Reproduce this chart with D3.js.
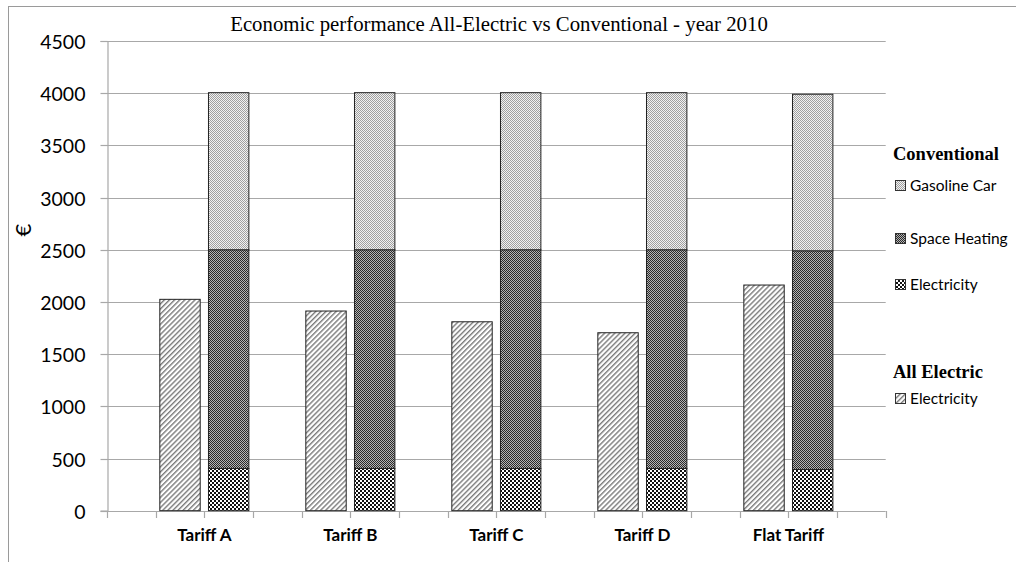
<!DOCTYPE html>
<html>
<head>
<meta charset="utf-8">
<script src="https://cdn.jsdelivr.net/npm/d3@7"></script>
<style>
  html, body { margin: 0; padding: 0; background: #fff; }
  svg { display: block; }
</style>
</head>
<body>
<svg id="chart" width="1016" height="562"></svg>
<script>
// Tariff scenarios on the category axis
const tariffs = ["Tariff A", "Tariff B", "Tariff C", "Tariff D", "Flat Tariff"];

// All-Electric household: electricity bill (€)
const allElectric = [2025, 1913, 1810, 1705, 2162];

// Conventional household, stacked from the bottom (€)
const convElectricity = [405, 405, 405, 405, 395];
const convHeating     = [2095, 2095, 2095, 2095, 2095];
const convGasoline    = [1505, 1505, 1505, 1505, 1500];

const yTicks = [0, 500, 1000, 1500, 2000, 2500, 3000, 3500, 4000, 4500];

const svg = d3.select("#chart");
const plot = { left: 107, right: 885.7, top: 41, bottom: 510.7 };

// ---- fill patterns ----
const defs = svg.append("defs");

// diagonal hatch for All-Electric electricity
const hatch = defs.append("pattern")
  .attr("id", "p-ae").attr("patternUnits", "userSpaceOnUse")
  .attr("width", 3.6).attr("height", 3.6)
  .attr("patternTransform", "rotate(45)");
hatch.append("rect").attr("width", 3.6).attr("height", 3.6).attr("fill", "#fff");
hatch.append("rect").attr("x", 0).attr("y", 0).attr("width", 1.4).attr("height", 3.6).attr("fill", "#7a7a7a");

// fine light checker for gasoline car
const gas = defs.append("pattern")
  .attr("id", "p-gas").attr("patternUnits", "userSpaceOnUse")
  .attr("width", 2).attr("height", 2);
gas.append("rect").attr("width", 2).attr("height", 2).attr("fill", "#f2f2f2");
gas.append("rect").attr("x", 0).attr("y", 0).attr("width", 1).attr("height", 1).attr("fill", "#a0a0a0");
gas.append("rect").attr("x", 1).attr("y", 1).attr("width", 1).attr("height", 1).attr("fill", "#a0a0a0");

// dark fine checker for space heating
const heat = defs.append("pattern")
  .attr("id", "p-heat").attr("patternUnits", "userSpaceOnUse")
  .attr("width", 2).attr("height", 2);
heat.append("rect").attr("width", 2).attr("height", 2).attr("fill", "#b4b4b4");
heat.append("rect").attr("x", 0).attr("y", 0).attr("width", 1).attr("height", 1).attr("fill", "#2a2a2a");
heat.append("rect").attr("x", 1).attr("y", 1).attr("width", 1).attr("height", 1).attr("fill", "#2a2a2a");

// coarse black/white checker for conventional electricity
const elec = defs.append("pattern")
  .attr("id", "p-elec").attr("patternUnits", "userSpaceOnUse")
  .attr("width", 4).attr("height", 4);
elec.append("rect").attr("width", 4).attr("height", 4).attr("fill", "#111");
elec.append("rect").attr("x", 0).attr("y", 0).attr("width", 2).attr("height", 2).attr("fill", "#fff");
elec.append("rect").attr("x", 2).attr("y", 2).attr("width", 2).attr("height", 2).attr("fill", "#fff");

// ---- outer frame ----
svg.append("rect")
  .attr("x", 8.5).attr("y", 6.5).attr("width", 1100).attr("height", 700)
  .attr("fill", "none").attr("stroke", "#9a9a9a").attr("stroke-width", 1);

// ---- scales ----
// each tariff gets an empty slot, then the All-Electric bar, then the Conventional bar
const slots = [];
tariffs.forEach((t, i) => { slots.push("gap" + i, t + "|AE", t + "|CONV"); });
slots.push("gapEnd");

const x = d3.scaleBand().domain(slots).range([plot.left, plot.right]).padding(0);
const y = d3.scaleLinear().domain([0, 4500]).range([plot.bottom, plot.top]);
const barPad = x.step() * 0.085;
const barW = x.step() - 2 * barPad;

// ---- gridlines ----
svg.append("g")
  .selectAll("line").data(yTicks.filter(d => d > 0)).join("line")
  .attr("x1", plot.left).attr("x2", plot.right)
  .attr("y1", d => Math.round(y(d)) + 0.5).attr("y2", d => Math.round(y(d)) + 0.5)
  .attr("stroke", "#a8a8a8").attr("stroke-width", 1.2);

// ---- y axis ----
const yAxis = svg.append("g")
  .attr("transform", `translate(${Math.round(plot.left) + 0.5},0)`)
  .call(d3.axisLeft(y).tickValues(yTicks).tickSize(7).tickPadding(15).tickFormat(d3.format("d")));
yAxis.select(".domain").attr("stroke", "#a8a8a8").attr("stroke-width", 1.2);
yAxis.selectAll(".tick line").attr("stroke", "#a8a8a8").attr("stroke-width", 1.2);
yAxis.selectAll(".tick text")
  .attr("font-family", "Lato, 'Open Sans', sans-serif").attr("font-size", 19.5)
  .attr("fill", "#000").attr("dy", "0.36em");
yAxis.selectAll(".tick").attr("transform", d => `translate(0,${Math.round(y(d)) + 0.5})`);

// ---- x axis line and slot boundary ticks ----
const boundaries = slots.map(s => x(s)).concat([plot.right]);
const xg = svg.append("g");
xg.append("line")
  .attr("x1", plot.left).attr("x2", plot.right)
  .attr("y1", Math.round(plot.bottom) + 0.5).attr("y2", Math.round(plot.bottom) + 0.5)
  .attr("stroke", "#a8a8a8").attr("stroke-width", 1.2);
xg.selectAll("line.tk").data(boundaries).join("line").attr("class", "tk")
  .attr("x1", d => Math.round(d) + 0.5).attr("x2", d => Math.round(d) + 0.5)
  .attr("y1", Math.round(plot.bottom)).attr("y2", Math.round(plot.bottom) + 7)
  .attr("stroke", "#a8a8a8").attr("stroke-width", 1.2);

// category labels centered between each pair of bars
xg.selectAll("text").data(tariffs).join("text")
  .attr("x", t => x(t + "|CONV"))
  .attr("y", 541)
  .attr("text-anchor", "middle")
  .attr("font-family", "Lato, 'Open Sans', sans-serif")
  .attr("font-weight", "bold").attr("font-size", 17)
  .attr("fill", "#000")
  .text(t => t);

// ---- bars ----
const bars = svg.append("g");

// All-Electric bars
bars.selectAll("rect.ae").data(tariffs).join("rect").attr("class", "ae")
  .attr("x", (t) => x(t + "|AE") + barPad)
  .attr("width", barW)
  .attr("y", (t, i) => y(allElectric[i]))
  .attr("height", (t, i) => y(0) - y(allElectric[i]))
  .attr("fill", "url(#p-ae)").attr("stroke", "#222").attr("stroke-width", 1);

// Conventional stacked bars
const stackRows = tariffs.map((t, i) => ({
  tariff: t,
  electricity: convElectricity[i],
  heating: convHeating[i],
  gasoline: convGasoline[i]
}));
const layers = d3.stack().keys(["electricity", "heating", "gasoline"])(stackRows);
const fills = { electricity: "url(#p-elec)", heating: "url(#p-heat)", gasoline: "url(#p-gas)" };

bars.selectAll("g.layer").data(layers).join("g").attr("class", "layer")
  .attr("fill", d => fills[d.key])
  .selectAll("rect").data(d => d).join("rect")
  .attr("x", d => x(d.data.tariff + "|CONV") + barPad)
  .attr("width", barW)
  .attr("y", d => y(d[1]))
  .attr("height", d => y(d[0]) - y(d[1]))
  .attr("stroke", "#222").attr("stroke-width", 1);

// ---- title ----
svg.append("text")
  .attr("x", 499).attr("y", 31)
  .attr("text-anchor", "middle")
  .attr("font-family", "'Liberation Serif', 'Times New Roman', serif")
  .attr("font-size", 20.8).attr("fill", "#000")
  .text("Economic performance All-Electric vs Conventional - year 2010");

// ---- y axis title ----
svg.append("text")
  .attr("transform", "translate(31,230) rotate(-90)")
  .attr("text-anchor", "middle")
  .attr("font-family", "Lato, 'Open Sans', sans-serif")
  .attr("font-size", 22).attr("fill", "#000")
  .text("€");

// ---- legend ----
const legend = svg.append("g");
const legendHeads = [
  { text: "Conventional", y: 160 },
  { text: "All Electric", y: 378 }
];
legend.selectAll("text.head").data(legendHeads).join("text").attr("class", "head")
  .attr("x", 893).attr("y", d => d.y)
  .attr("font-family", "'Liberation Serif', 'Times New Roman', serif")
  .attr("font-weight", "bold").attr("font-size", 18.5).attr("fill", "#000")
  .text(d => d.text);

const legendItems = [
  { text: "Gasoline Car", fill: "url(#p-gas)", y: 191 },
  { text: "Space Heating", fill: "url(#p-heat)", y: 244 },
  { text: "Electricity", fill: "url(#p-elec)", y: 290 },
  { text: "Electricity", fill: "url(#p-ae)", y: 404 }
];
const li = legend.selectAll("g.item").data(legendItems).join("g").attr("class", "item");
li.append("rect")
  .attr("x", 895.5).attr("y", d => d.y - 10.5)
  .attr("width", 10).attr("height", 10)
  .attr("fill", d => d.fill).attr("stroke", "#333").attr("stroke-width", 1);
li.append("text")
  .attr("x", 910).attr("y", d => d.y)
  .attr("font-family", "Lato, 'Open Sans', sans-serif")
  .attr("font-size", 15.5).attr("fill", "#000")
  .text(d => d.text);
</script>
</body>
</html>
